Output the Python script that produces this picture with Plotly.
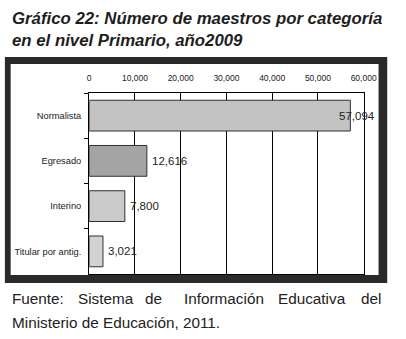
import plotly.graph_objects as go

categories = ["Normalista", "Egresado", "Interino", "Titular por antig."]
values = [57094, 12616, 7800, 3021]
bar_colors = ["#c3c3c3", "#a4a4a4", "#cacaca", "#d2d2d2"]
label_shift = [-13, 3, 3, 3]
x_ticks = [0, 10000, 20000, 30000, 40000, 50000, 60000]
x_ticktext = ["0", "10,000", "20,000", "30,000", "40,000", "50,000", "60,000"]
title_lines = ["Gráfico 22: Número de maestros por categoría", "en el nivel Primario, año2009"]
footer_words = ["Fuente:", "Sistema", "de", "Información", "Educativa", "del"]
footer_x = [8, 77, 146, 187, 285, 396]
footer_line2 = "Ministerio de Educación, 2011."

W, H = 406, 339
def px(x):
    return x / W
def py(y):
    return 1 - y / H

FONT = "Liberation Sans, Arial"

fig = go.Figure()
fig.add_trace(go.Bar(
    y=categories, x=values, orientation="h",
    marker=dict(color=bar_colors, line=dict(color="#303030", width=1)),
    width=0.68, hoverinfo="skip",
))

annotations = []
for c, v, s in zip(categories, values, label_shift):
    annotations.append(dict(x=v, y=c, xref="x", yref="y", text=f"{v:,}", showarrow=False,
                            xanchor="left", xshift=s, font=dict(size=11.5, color="#222", family=FONT)))
annotations.append(dict(x=px(8), y=py(7), xref="paper", yref="paper", xanchor="left", yanchor="top",
                        text=f"<b><i>{title_lines[0]}<br>{title_lines[1]}</i></b>", showarrow=False,
                        align="left", font=dict(size=16.8, color="#1e1e1e", family=FONT)))
for w, xx in zip(footer_words, footer_x):
    annotations.append(dict(x=px(xx), y=py(298), xref="paper", yref="paper",
                            xanchor="right" if w == footer_words[-1] else "left", yanchor="middle",
                            text=w, showarrow=False,
                            font=dict(size=15.3, color="#222", family=FONT)))
annotations.append(dict(x=px(8), y=py(322), xref="paper", yref="paper", xanchor="left", yanchor="middle",
                        text=footer_line2, showarrow=False,
                        font=dict(size=15.3, color="#222", family=FONT)))

shapes = [
    dict(type="rect", xref="paper", yref="paper", x0=px(3), x1=px(400), y0=py(283), y1=py(57),
         fillcolor="#2a2a2a", line=dict(width=0), layer="below"),
    dict(type="rect", xref="paper", yref="paper", x0=px(9), x1=px(391), y0=py(275), y1=py(64),
         fillcolor="white", line=dict(width=0), layer="below"),
]

fig.update_layout(
    width=W, height=H, margin=dict(l=0, r=0, t=0, b=0),
    paper_bgcolor="white", plot_bgcolor="rgba(0,0,0,0)",
    showlegend=False, annotations=annotations, shapes=shapes,
    xaxis=dict(domain=[px(90.5), px(375.5)], range=[0, 60000], side="top",
               tickvals=x_ticks, ticktext=x_ticktext, showgrid=True, gridcolor="#000", gridwidth=1,
               showline=True, linecolor="#000", linewidth=1, mirror=True, zeroline=False,
               ticks="", ticklabelstandoff=8,
               tickfont=dict(size=8.5, color="#222", family=FONT)),
    yaxis=dict(domain=[py(274), py(93)], autorange="reversed", type="category",
               showline=True, linecolor="#000", linewidth=1, mirror=True, showgrid=False,
               ticks="outside", ticklen=4, tickcolor="#000", tickson="boundaries",
               ticklabelstandoff=5,
               tickfont=dict(size=9.3, color="#222", family=FONT)),
)

fig.write_html(
    "out.html",
    config={"displayModeBar": False, "staticPlot": True},
    post_script=(
        "document.documentElement.style.margin='0';document.documentElement.style.padding='0';"
        "document.documentElement.style.overflow='hidden';"
        "document.body.style.margin='0';document.body.style.padding='0';"
        "document.body.style.overflow='hidden';"
    ),
)
